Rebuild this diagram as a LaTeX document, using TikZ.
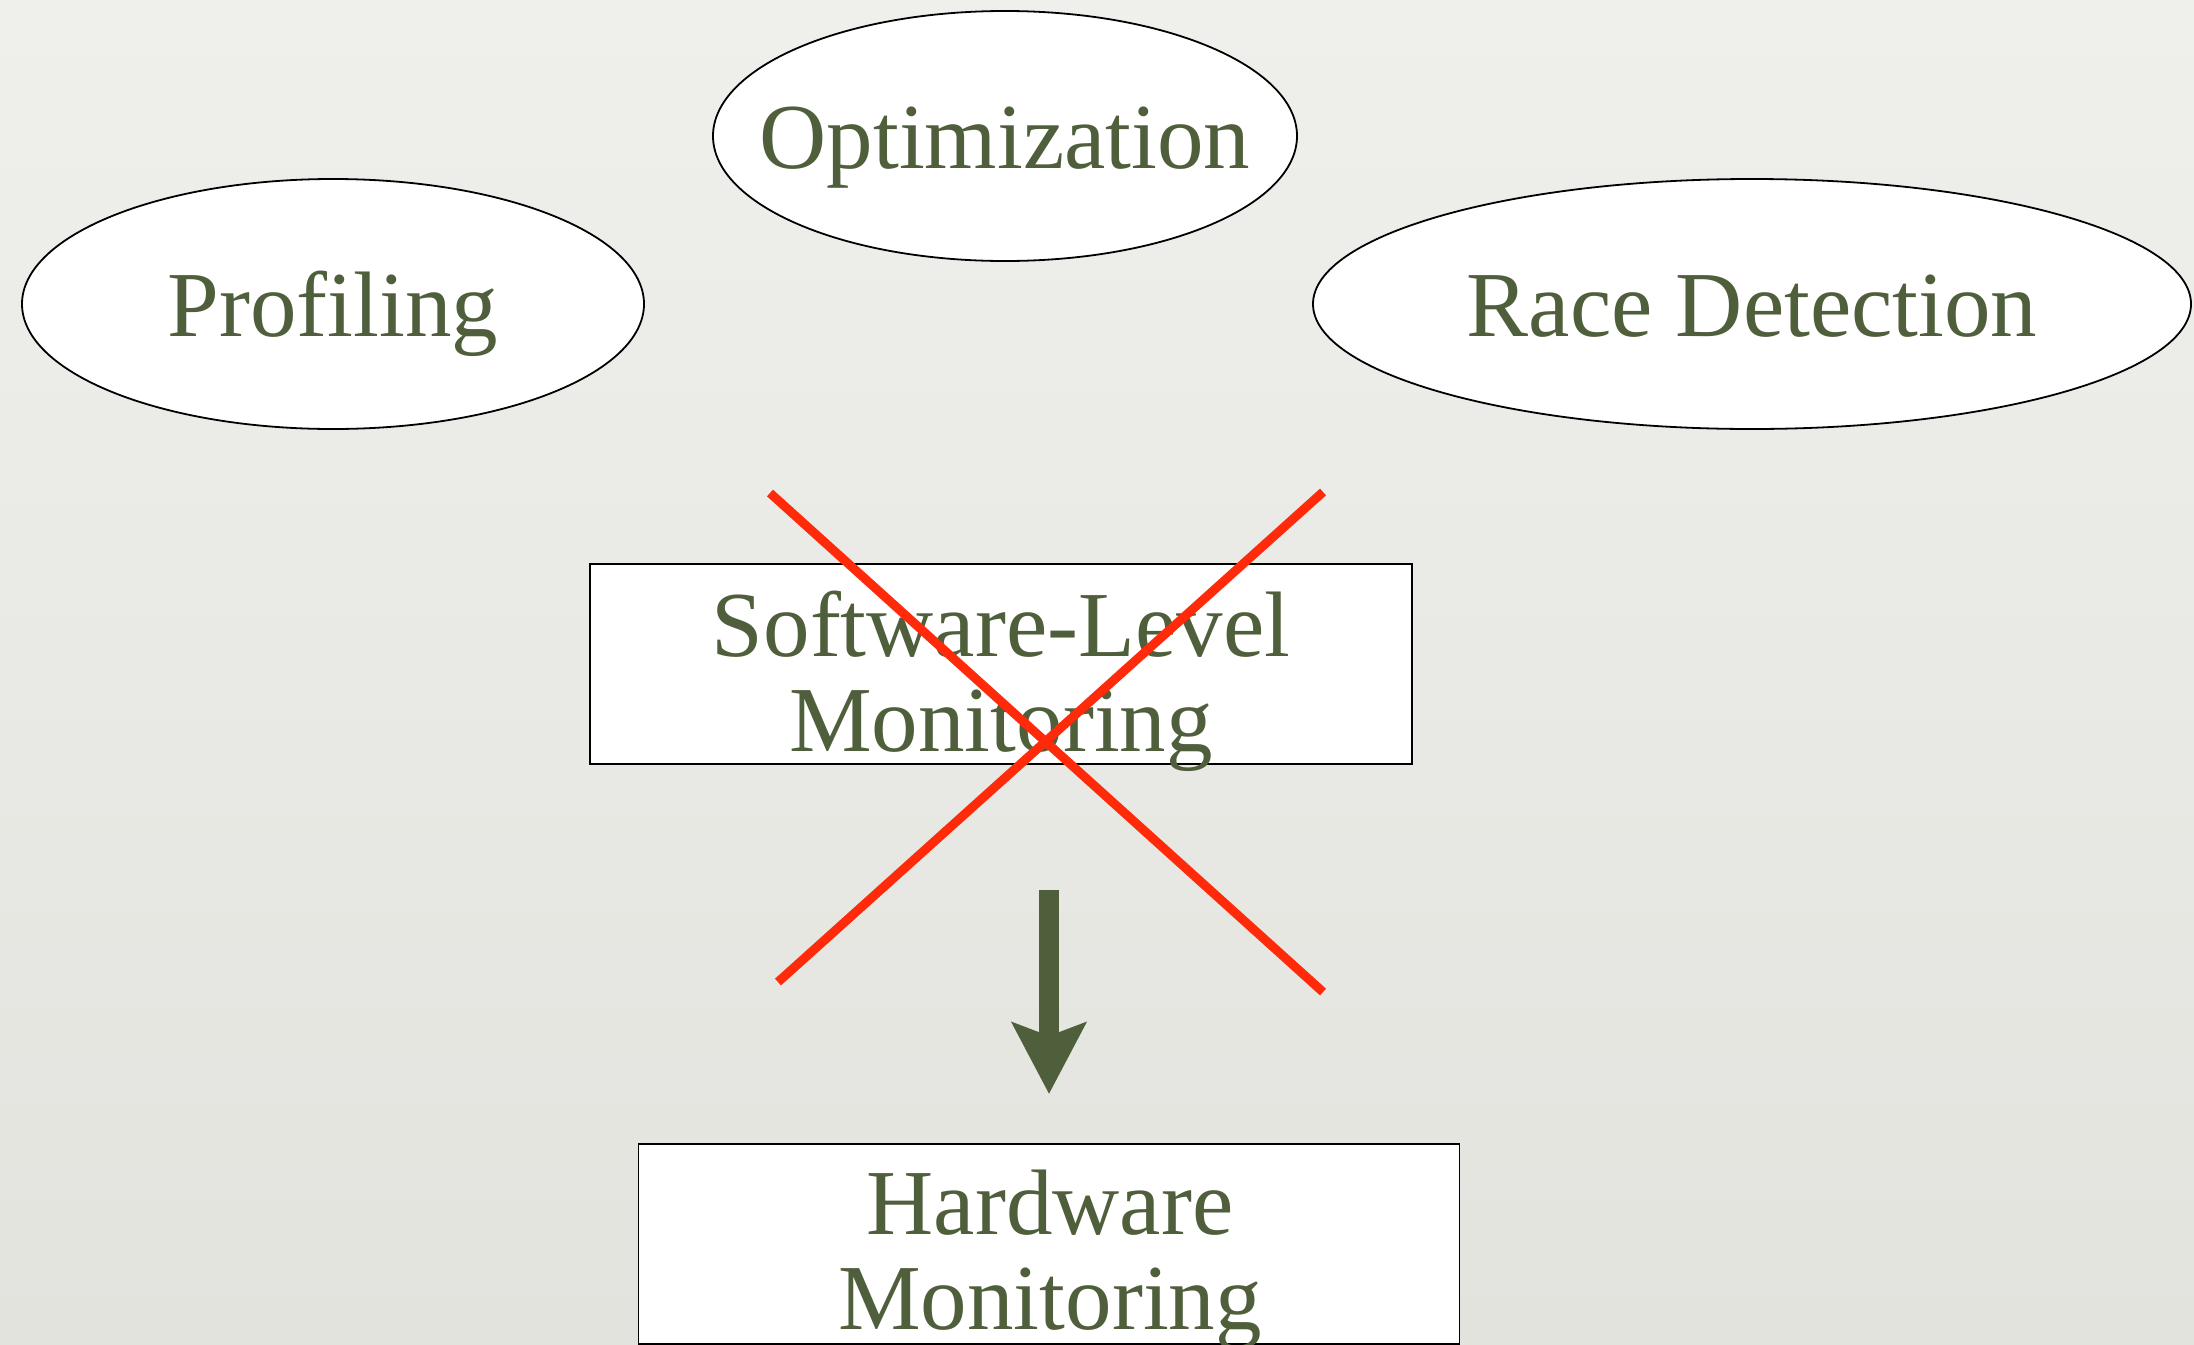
\documentclass[tikz,border=0pt]{standalone}
\usepackage{fontspec}
\setmainfont{Liberation Serif}
\usetikzlibrary{shapes.geometric,arrows.meta}
\definecolor{olive}{HTML}{4F5E3B}
\definecolor{crossred}{HTML}{FF2A0A}
\definecolor{bgtop}{HTML}{EFEFEC}
\definecolor{bgbot}{HTML}{E3E3DE}
\tikzset{
  goal/.style={ellipse,draw,line width=1.8pt,fill=white,inner sep=0pt,
    minimum height=250pt},
  gtxt/.style={inner sep=0pt,text=olive,text height=64pt,text depth=0pt,
    font=\fontsize{93}{95}\selectfont},
  box/.style={rectangle,draw,line width=1.8pt,fill=white,minimum height=200pt},
  lbl/.style={align=center,inner sep=0pt,text=olive,
    font=\fontsize{93}{95}\selectfont},
  cross/.style={crossred,line width=9pt},
  down/.style={olive,line width=20pt,-{Stealth[length=71pt,width=73pt,inset=13pt]}}
}
\begin{document}
\begin{tikzpicture}[x=1pt,y=-1pt]
      \shade[top color=bgtop,bottom color=bgbot] (0,0) rectangle (2194,1344);
      \useasboundingbox (0,0) rectangle (2194,1344);
      % goals
      \node[goal,minimum width=584pt] (opt) at (1005,136) {};
      \node[goal,minimum width=622pt] (prof) at (333,304) {};
      \node[goal,minimum width=878pt] (race) at (1752,304) {};
      \node[gtxt] (opttxt) at (opt) {Optimization};
      \node[gtxt] (proftxt) at (prof) {Profiling};
      \node[gtxt] (racetxt) at (race) {Race Detection};
      % monitoring boxes
      \node[box,minimum width=822pt] (sw) at (1001,664) {};
      \node[lbl,anchor=north] (swtxt) at (1001,591) {Software-Level\\Monitoring};
      \node[box,minimum width=821pt,anchor=north] (hw) at (1049,1143) {};
      \node[lbl,anchor=north] (hwtxt) at (1050,1170) {Hardware\\Monitoring};
      % crossed out
      \coordinate (a) at (770,493);
      \coordinate (b) at (1323,992);
      \coordinate (c) at (1323,492);
      \coordinate (d) at (778,982);
      \begin{scope}[cross]
        \draw (a) -- (b);
        \draw (c) -- (d);
      \end{scope}
      \draw[down,shorten <=125pt,shorten >=49pt] (hw.north |- sw.south) -- (hw.north);
    \end{tikzpicture}
\end{document}
